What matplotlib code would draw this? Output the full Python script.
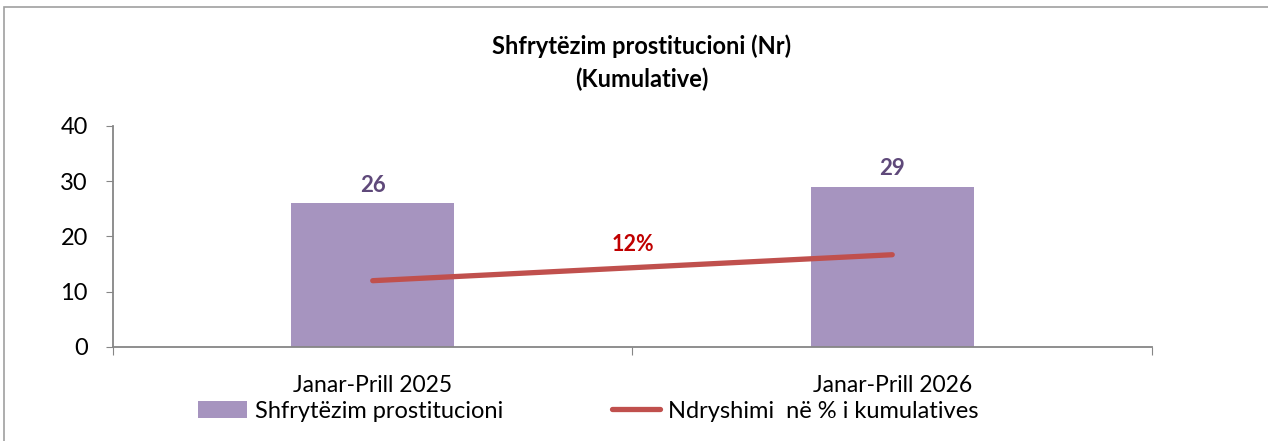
import matplotlib.pyplot as plt
import numpy as np

plt.rcParams['font.family'] = ['Lato', 'DejaVu Sans']

categories = ['Janar-Prill 2025', 'Janar-Prill 2026']
values = [26, 29]
change_line = [12.0, 16.7]
bar_name = 'Shfrytëzim prostitucioni'
line_name = 'Ndryshimi  në % i kumulatives'

pct = round((values[1] - values[0]) / values[0] * 100)

fig = plt.figure(figsize=(12.68, 4.41), dpi=100)
ax = fig.add_axes([0.0891, 0.2132, 0.8194, 0.5011])

x = np.arange(len(categories))
bars = ax.bar(x, values, width=0.314, color='#A694BF', label=bar_name, zorder=2)
line, = ax.plot(x, change_line, color='#C0504D', lw=3.8, solid_capstyle='round',
                label=line_name, zorder=3)

for xi, v in zip(x, values):
    ax.text(xi, v + 3.3, str(v), ha='center', va='center', fontsize=16,
            fontweight='bold', color='#5F497A')
ax.text(x.mean(), 18.6, f'{pct}%', ha='center', va='center', fontsize=15.5,
        fontweight='bold', color='#C00000')

ax.set_xlim(-0.5, 1.5)
ax.set_ylim(0, 40)
ax.set_yticks(range(0, 41, 10))
ax.set_xticks([-0.5, 0.5, 1.5], minor=False)
ax.set_xticklabels(['', '', ''])
ax.set_xticks(x, minor=True)
ax.set_xticklabels(categories, minor=True)
ax.tick_params(axis='x', which='minor', length=0, labelsize=16.5, pad=20)
ax.tick_params(axis='x', which='major', length=6, color='#868686')
ax.tick_params(axis='y', length=5, color='#868686', labelsize=17, pad=13)
for s in ['top', 'right']:
    ax.spines[s].set_visible(False)
for s in ['left', 'bottom']:
    ax.spines[s].set_color('#868686')
    ax.spines[s].set_linewidth(1.3)

fig.text(0.506, 0.858, 'Shfrytëzim prostitucioni (Nr)\n(Kumulative)', ha='center',
         va='center', fontsize=17, fontweight='bold', linespacing=1.5)

fig.legend(handles=[bars, line], loc='center left', bbox_to_anchor=(0.1396, 0.068),
           ncol=2, frameon=False, fontsize=17, handlelength=2.05, handletextpad=0.34,
           columnspacing=4.6)

# thin frame round the figure
fig.add_artist(plt.Rectangle((0.003, -0.01), 1.2, 0.994, transform=fig.transFigure,
                             fill=False, edgecolor='#A0A0A0', lw=1.2))

fig.savefig('out.png', dpi=100)
